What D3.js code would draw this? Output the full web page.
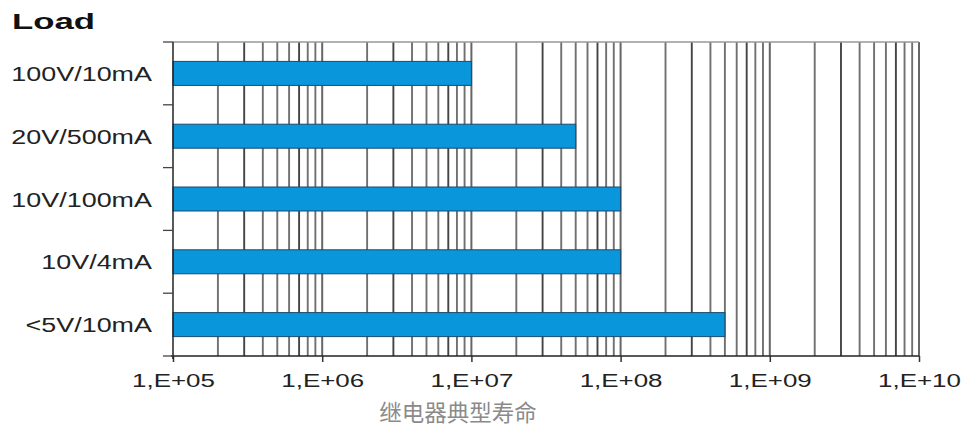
<!DOCTYPE html>
<html><head><meta charset="utf-8">
<script src="https://cdn.jsdelivr.net/npm/d3@7/dist/d3.min.js"></script>
<style>html,body{margin:0;padding:0;background:#fff;}svg{display:block;}</style>
</head><body>
<script>
const categories = ["100V/10mA","20V/500mA","10V/100mA","10V/4mA","<5V/10mA"];
const lifeValues = [1e7, 5e7, 1e8, 1e8, 5e8];
const tickValues = [1e5,1e6,1e7,1e8,1e9,1e10];
const tickLabels = ["1,E+05","1,E+06","1,E+07","1,E+08","1,E+09","1,E+10"];
const yTitle = "Load";
const caption = "继电器典型寿命";

const W = 965, H = 430;
const L = 173, R = 919, T = 42, B = 356;
const svg = d3.select("body").append("svg").attr("width", W).attr("height", H);
const x = d3.scaleLog().domain([1e5,1e10]).range([L,R]);
const y = d3.scaleBand().domain(categories).range([T,B]).paddingInner(0).paddingOuter(0);
const font = "'Liberation Sans', Arial, sans-serif";

// minor grid
const minors = [];
for (let e = 5; e < 10; e++) for (let k = 2; k <= 9; k++) minors.push(k * Math.pow(10, e));
svg.append("g").selectAll("line").data(minors).join("line")
  .attr("x1", d => x(d)).attr("x2", d => x(d)).attr("y1", T).attr("y2", B)
  .attr("stroke", (d,i) => (i % 4 === 1 ? "#444" : "#707070")).attr("stroke-width", 1.9);
// decade grid
svg.append("g").selectAll("line").data(tickValues.slice(1)).join("line")
  .attr("x1", d => x(d)).attr("x2", d => x(d)).attr("y1", T).attr("y2", B)
  .attr("stroke", "#666").attr("stroke-width", 2);
// top border
svg.append("line").attr("x1", L).attr("x2", R).attr("y1", T).attr("y2", T)
  .attr("stroke", "#999").attr("stroke-width", 1.5);

// bars
const barH = 24;
svg.append("g").selectAll("rect").data(categories).join("rect")
  .attr("x", x(1e5))
  .attr("y", d => y(d) + y.bandwidth()/2 - barH/2)
  .attr("width", (d,i) => x(lifeValues[i]) - x(1e5))
  .attr("height", barH)
  .attr("fill", "#0a96da").attr("stroke", "#1d4a6e").attr("stroke-width", 1);

// x axis
const xAxis = d3.axisBottom(x).tickValues(tickValues).tickFormat((d,i) => tickLabels[i]).tickSize(6).tickSizeOuter(0);
const gx = svg.append("g").attr("transform", `translate(0,${B})`).call(xAxis);
gx.select(".domain").attr("stroke", "#222").attr("stroke-width", 1.5).attr("d", `M${L-2},0H${R}`);
gx.selectAll(".tick line").attr("stroke", "#333").attr("stroke-width", 1.5);
gx.selectAll(".tick text").attr("font-family", font).attr("font-size", 18).attr("fill", "#222")
  .attr("y", 31).attr("dy", 0)
  .each(function(){ const w = this.getComputedTextLength(); d3.select(this).attr("textLength", w*1.44).attr("lengthAdjust","spacingAndGlyphs"); });

// y axis
const yAxis = d3.axisLeft(y).tickSize(0).tickFormat("");
const gy = svg.append("g").attr("transform", `translate(${L},0)`).call(yAxis);
gy.select(".domain").attr("stroke", "#222").attr("stroke-width", 1.5).attr("d", `M0,${T}V${B+3}`);
// band boundary ticks
const bounds = categories.map(c => y(c)).concat([B]);
svg.append("g").selectAll("line").data(bounds).join("line")
  .attr("x1", L-10).attr("x2", L).attr("y1", d => d).attr("y2", d => d)
  .attr("stroke", "#444").attr("stroke-width", 1.3);
// category labels
svg.append("g").selectAll("text").data(categories).join("text")
  .attr("x", 152).attr("y", d => y(d) + y.bandwidth()/2 + 7.5)
  .attr("text-anchor", "end").attr("font-family", font).attr("font-size", 19.5).attr("fill", "#222")
  .text(d => d)
  .each(function(){ const w = this.getComputedTextLength(); d3.select(this).attr("textLength", w*1.38).attr("lengthAdjust","spacingAndGlyphs"); });

// title
svg.append("text").attr("x", 12).attr("y", 29).attr("font-family", font).attr("font-weight", "bold")
  .attr("font-size", 22).attr("fill", "#111").text(yTitle)
  .attr("textLength", 83).attr("lengthAdjust","spacingAndGlyphs");

// caption
svg.append("text").attr("x", 458).attr("y", 421).attr("text-anchor", "middle")
  .attr("font-family", "'Noto Sans CJK SC', sans-serif").attr("font-size", 22.5).attr("fill", "#8a8a8a")
  .text(caption);
</script>
</body></html>
